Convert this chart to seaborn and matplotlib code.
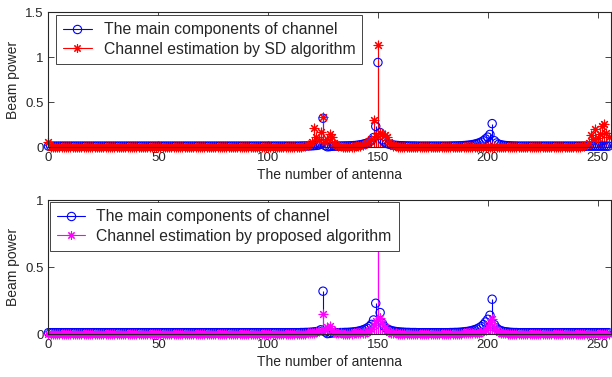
import numpy as np
import matplotlib
matplotlib.use("Agg")
import matplotlib.pyplot as plt
from matplotlib.lines import Line2D
import seaborn as sns

# ---- data: beam power per antenna index (0..255) ----
antenna = list(range(256))

main_components = [
    0.010, 0.010, 0.010, 0.010, 0.010, 0.010, 0.010, 0.010, 0.010, 0.010, 0.010, 0.010, 0.010, 0.010, 0.010, 0.010,
    0.010, 0.010, 0.010, 0.010, 0.010, 0.010, 0.010, 0.010, 0.010, 0.010, 0.010, 0.010, 0.010, 0.010, 0.010, 0.010,
    0.010, 0.010, 0.010, 0.010, 0.010, 0.010, 0.010, 0.010, 0.010, 0.010, 0.010, 0.010, 0.010, 0.010, 0.010, 0.010,
    0.010, 0.010, 0.010, 0.010, 0.010, 0.010, 0.010, 0.010, 0.010, 0.010, 0.010, 0.010, 0.010, 0.010, 0.010, 0.010,
    0.010, 0.010, 0.010, 0.010, 0.010, 0.010, 0.010, 0.010, 0.010, 0.010, 0.010, 0.010, 0.010, 0.010, 0.010, 0.010,
    0.010, 0.010, 0.010, 0.010, 0.010, 0.010, 0.010, 0.010, 0.010, 0.010, 0.010, 0.010, 0.010, 0.010, 0.010, 0.010,
    0.010, 0.010, 0.010, 0.010, 0.010, 0.010, 0.010, 0.010, 0.010, 0.010, 0.010, 0.010, 0.010, 0.010, 0.010, 0.010,
    0.010, 0.010, 0.010, 0.011, 0.011, 0.012, 0.012, 0.013, 0.014, 0.016, 0.018, 0.022, 0.032, 0.320, 0.015, 0.003,
    0.005, 0.008, 0.010, 0.010, 0.010, 0.011, 0.011, 0.012, 0.012, 0.013, 0.014, 0.016, 0.018, 0.021, 0.025, 0.030,
    0.036, 0.044, 0.055, 0.072, 0.105, 0.230, 0.940, 0.160, 0.080, 0.055, 0.040, 0.032, 0.026, 0.022, 0.019, 0.017,
    0.015, 0.014, 0.013, 0.012, 0.012, 0.011, 0.011, 0.011, 0.010, 0.010, 0.010, 0.010, 0.010, 0.010, 0.010, 0.010,
    0.010, 0.010, 0.010, 0.010, 0.010, 0.010, 0.010, 0.011, 0.011, 0.012, 0.012, 0.013, 0.014, 0.016, 0.018, 0.020,
    0.023, 0.027, 0.032, 0.038, 0.046, 0.056, 0.070, 0.090, 0.110, 0.140, 0.260, 0.070, 0.045, 0.032, 0.025, 0.020,
    0.017, 0.015, 0.013, 0.012, 0.011, 0.011, 0.010, 0.010, 0.010, 0.010, 0.010, 0.010, 0.010, 0.010, 0.010, 0.010,
    0.010, 0.010, 0.010, 0.010, 0.010, 0.010, 0.010, 0.010, 0.010, 0.010, 0.010, 0.010, 0.010, 0.010, 0.010, 0.010,
    0.010, 0.010, 0.010, 0.010, 0.010, 0.010, 0.010, 0.010, 0.010, 0.010, 0.010, 0.010, 0.010, 0.010, 0.010, 0.010,
]

sd_estimate = [
    0.055, 0.004, 0.002, 0.002, 0.002, 0.002, 0.002, 0.002, 0.002, 0.002, 0.002, 0.002, 0.002, 0.002, 0.002, 0.002,
    0.002, 0.002, 0.002, 0.002, 0.002, 0.002, 0.002, 0.002, 0.002, 0.002, 0.002, 0.002, 0.002, 0.002, 0.002, 0.002,
    0.002, 0.002, 0.002, 0.002, 0.002, 0.002, 0.002, 0.002, 0.002, 0.002, 0.002, 0.002, 0.002, 0.002, 0.002, 0.002,
    0.002, 0.002, 0.002, 0.002, 0.002, 0.002, 0.002, 0.002, 0.002, 0.002, 0.002, 0.002, 0.002, 0.002, 0.002, 0.002,
    0.002, 0.002, 0.002, 0.002, 0.002, 0.002, 0.002, 0.002, 0.002, 0.002, 0.002, 0.002, 0.002, 0.002, 0.002, 0.002,
    0.002, 0.002, 0.002, 0.002, 0.002, 0.002, 0.002, 0.002, 0.002, 0.002, 0.002, 0.002, 0.002, 0.002, 0.002, 0.002,
    0.002, 0.002, 0.002, 0.002, 0.002, 0.002, 0.002, 0.002, 0.002, 0.002, 0.002, 0.002, 0.002, 0.002, 0.002, 0.002,
    0.003, 0.003, 0.004, 0.005, 0.008, 0.012, 0.020, 0.035, 0.060, 0.210, 0.110, 0.080, 0.170, 0.330, 0.060, 0.090,
    0.150, 0.110, 0.050, 0.025, 0.012, 0.006, 0.004, 0.003, 0.003, 0.003, 0.004, 0.005, 0.006, 0.008, 0.012, 0.018,
    0.030, 0.050, 0.070, 0.090, 0.300, 0.120, 1.130, 0.160, 0.140, 0.130, 0.110, 0.060, 0.030, 0.015, 0.008, 0.005,
    0.004, 0.003, 0.003, 0.002, 0.002, 0.002, 0.002, 0.002, 0.002, 0.002, 0.002, 0.002, 0.002, 0.002, 0.002, 0.002,
    0.002, 0.002, 0.002, 0.002, 0.002, 0.002, 0.002, 0.002, 0.002, 0.002, 0.002, 0.002, 0.002, 0.002, 0.002, 0.002,
    0.002, 0.002, 0.002, 0.002, 0.002, 0.002, 0.002, 0.002, 0.002, 0.002, 0.002, 0.002, 0.002, 0.002, 0.002, 0.002,
    0.002, 0.002, 0.002, 0.002, 0.002, 0.002, 0.002, 0.002, 0.002, 0.002, 0.002, 0.002, 0.002, 0.002, 0.002, 0.002,
    0.002, 0.002, 0.002, 0.002, 0.002, 0.002, 0.002, 0.002, 0.002, 0.002, 0.002, 0.002, 0.002, 0.002, 0.002, 0.002,
    0.002, 0.003, 0.004, 0.006, 0.010, 0.020, 0.040, 0.130, 0.090, 0.200, 0.100, 0.140, 0.230, 0.260, 0.160, 0.110,
]

proposed_estimate = [
    0.002, 0.002, 0.002, 0.002, 0.002, 0.002, 0.002, 0.002, 0.002, 0.002, 0.002, 0.002, 0.002, 0.002, 0.002, 0.002,
    0.002, 0.002, 0.002, 0.002, 0.002, 0.002, 0.002, 0.002, 0.002, 0.002, 0.002, 0.002, 0.002, 0.002, 0.002, 0.002,
    0.002, 0.002, 0.002, 0.002, 0.002, 0.002, 0.002, 0.002, 0.002, 0.002, 0.002, 0.002, 0.002, 0.002, 0.002, 0.002,
    0.002, 0.002, 0.002, 0.002, 0.002, 0.002, 0.002, 0.002, 0.002, 0.002, 0.002, 0.002, 0.002, 0.002, 0.002, 0.002,
    0.002, 0.002, 0.002, 0.002, 0.002, 0.002, 0.002, 0.002, 0.002, 0.002, 0.002, 0.002, 0.002, 0.002, 0.002, 0.002,
    0.002, 0.002, 0.002, 0.002, 0.002, 0.002, 0.002, 0.002, 0.002, 0.002, 0.002, 0.002, 0.002, 0.002, 0.002, 0.002,
    0.002, 0.002, 0.002, 0.002, 0.002, 0.002, 0.002, 0.002, 0.002, 0.002, 0.002, 0.002, 0.002, 0.002, 0.002, 0.002,
    0.002, 0.002, 0.002, 0.003, 0.003, 0.003, 0.004, 0.004, 0.006, 0.010, 0.015, 0.020, 0.030, 0.150, 0.030, 0.050,
    0.060, 0.030, 0.015, 0.008, 0.005, 0.004, 0.003, 0.003, 0.003, 0.003, 0.003, 0.004, 0.004, 0.005, 0.006, 0.008,
    0.010, 0.015, 0.025, 0.040, 0.070, 0.100, 0.810, 0.120, 0.080, 0.050, 0.030, 0.018, 0.010, 0.006, 0.004, 0.003,
    0.003, 0.003, 0.002, 0.002, 0.002, 0.002, 0.002, 0.002, 0.002, 0.002, 0.002, 0.002, 0.002, 0.002, 0.002, 0.002,
    0.002, 0.002, 0.002, 0.002, 0.002, 0.002, 0.002, 0.002, 0.002, 0.002, 0.003, 0.003, 0.003, 0.004, 0.004, 0.005,
    0.005, 0.006, 0.006, 0.007, 0.008, 0.012, 0.020, 0.030, 0.050, 0.090, 0.110, 0.055, 0.030, 0.015, 0.008, 0.005,
    0.004, 0.003, 0.003, 0.002, 0.002, 0.002, 0.002, 0.002, 0.002, 0.002, 0.002, 0.002, 0.002, 0.002, 0.002, 0.002,
    0.002, 0.002, 0.002, 0.002, 0.002, 0.002, 0.002, 0.002, 0.002, 0.002, 0.002, 0.002, 0.002, 0.002, 0.002, 0.002,
    0.002, 0.002, 0.002, 0.002, 0.002, 0.002, 0.002, 0.002, 0.002, 0.002, 0.002, 0.002, 0.002, 0.002, 0.002, 0.002,
]

label_main = "The main components of channel"
label_sd = "Channel estimation by SD algorithm"
label_prop = "Channel estimation by proposed algorithm"
xlabel = "The number of antenna"
ylabel = "Beam power"
xticks = [0, 50, 100, 150, 200, 250]
yticks_top = [0, 0.5, 1, 1.5]
yticks_bottom = [0, 0.5, 1]

# ---- style ----
sns.set_theme(style="ticks")
plt.rcParams["font.family"] = ["Liberation Sans", "DejaVu Sans"]
TEXT = "#262626"
plt.rcParams.update({
    "axes.edgecolor": TEXT,
    "axes.linewidth": 0.8,
    "xtick.color": TEXT,
    "ytick.color": TEXT,
    "xtick.direction": "in",
    "ytick.direction": "in",
    "xtick.top": True,
    "ytick.right": True,
    "xtick.major.size": 4,
    "ytick.major.size": 4,
    "xtick.major.width": 0.6,
    "ytick.major.width": 0.6,
    "xtick.labelsize": 9.5,
    "ytick.labelsize": 9.5,
    "axes.labelsize": 10,
    "axes.labelcolor": TEXT,
})

BLUE = (0, 0, 1)
RED = (1, 0, 0)
MAGENTA = (1, 0, 1)
ASTERISK = (8, 2, 0)

fig = plt.figure(figsize=(6.12, 3.77), dpi=100)
ax_top = fig.add_axes([0.0792, 0.610, 0.9188, 0.358])
ax_bot = fig.add_axes([0.0792, 0.114, 0.9188, 0.355])


def draw_stem(ax, x, y, color, marker, size, open_marker):
    """Stem lines from zero plus a marker at each value."""
    ax.vlines(x, 0, y, colors=[color], linewidth=0.8, zorder=2)
    if open_marker:
        sns.scatterplot(x=x, y=y, ax=ax, marker=marker, s=size, facecolor="none",
                        edgecolor=color, color=color, linewidth=0.8, zorder=3,
                        legend=False, clip_on=False)
    else:
        sns.scatterplot(x=x, y=y, ax=ax, marker=marker, s=size, color=color,
                        edgecolor=color, linewidth=0.8, zorder=4,
                        legend=False, clip_on=False)


def legend_handle(color, marker, open_marker):
    # line with the marker at its right end
    return Line2D([0, 1, 2], [0, 0, 0], color=color, linewidth=0.8, marker=marker,
                  markersize=6, markerfacecolor="none" if open_marker else color,
                  markeredgecolor=color, markeredgewidth=0.8, markevery=[2])


def finish(ax, yticks, ymax):
    ax.axhline(0, color=TEXT, linewidth=0.6, zorder=5)
    ax.set_xlim(0, 256)
    ax.set_ylim(0, ymax)
    ax.set_xticks(xticks)
    ax.set_yticks(yticks)
    ax.set_yticklabels([f"{t:g}" for t in yticks])
    ax.set_xlabel(xlabel, labelpad=3)
    ax.set_ylabel(ylabel, labelpad=4)
    for s in ax.spines.values():
        s.set_visible(True)
        s.set_zorder(6)


LEGEND_KW = dict(loc="upper left", borderaxespad=0, numpoints=1, fontsize=11.3,
                 frameon=True, fancybox=False, edgecolor=TEXT, framealpha=1,
                 handletextpad=0.75, labelspacing=0.3, borderpad=0.45)

# top panel: SD algorithm
draw_stem(ax_top, antenna, main_components, BLUE, "o", 36, True)
draw_stem(ax_top, antenna, sd_estimate, RED, ASTERISK, 40, False)
finish(ax_top, yticks_top, 1.5)
leg_top = ax_top.legend([legend_handle(BLUE, "o", True), legend_handle(RED, ASTERISK, False)],
                        [label_main, label_sd], bbox_to_anchor=(0.013, 0.978),
                        handlelength=1.85, **LEGEND_KW)
leg_top.get_frame().set_linewidth(0.6)
leg_top.set_zorder(10)

# bottom panel: proposed algorithm
draw_stem(ax_bot, antenna, main_components, BLUE, "o", 36, True)
draw_stem(ax_bot, antenna, proposed_estimate, MAGENTA, ASTERISK, 40, False)
finish(ax_bot, yticks_bottom, 1.0)
leg_bot = ax_bot.legend([legend_handle(BLUE, "o", True), legend_handle(MAGENTA, ASTERISK, False)],
                        [label_main, label_prop], bbox_to_anchor=(0.003, 0.985),
                        handlelength=1.75, **LEGEND_KW)
leg_bot.get_frame().set_linewidth(0.6)
leg_bot.set_zorder(10)

fig.savefig("out.png", dpi=100)
